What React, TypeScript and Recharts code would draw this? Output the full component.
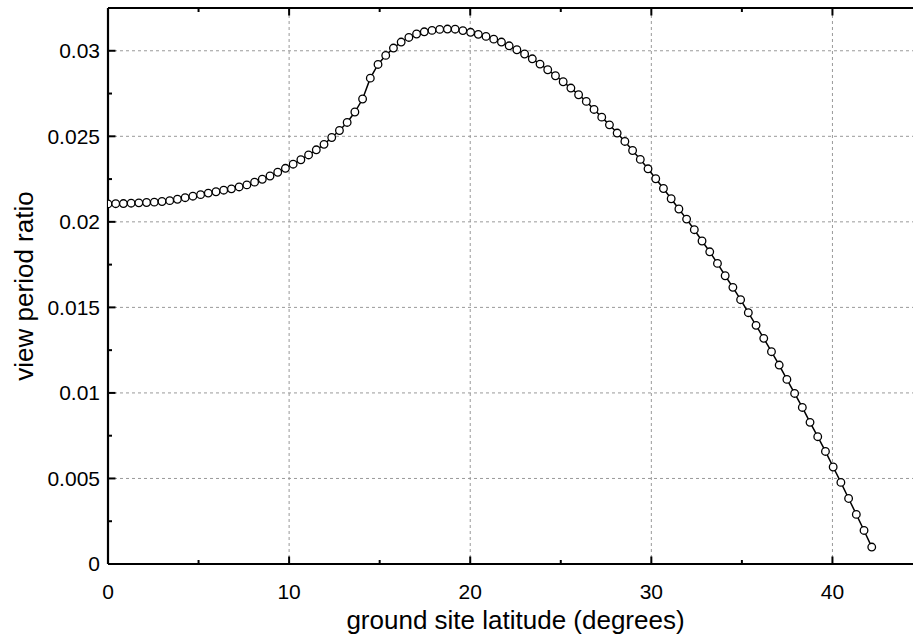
import { LineChart, Line, XAxis, YAxis, ReferenceLine, Label } from "recharts";

// ground site latitude, degrees
const latitude = [
  0, 0.426, 0.852, 1.278, 1.704, 2.13, 2.556, 2.982, 3.408, 3.834,
  4.26, 4.686, 5.112, 5.537, 5.963, 6.389, 6.815, 7.241, 7.667, 8.093,
  8.519, 8.945, 9.371, 9.797, 10.223, 10.649, 11.075, 11.501, 11.927, 12.353,
  12.779, 13.205, 13.631, 14.057, 14.483, 14.909, 15.335, 15.761, 16.187, 16.612,
  17.038, 17.464, 17.89, 18.316, 18.742, 19.168, 19.594, 20.02, 20.446, 20.872,
  21.298, 21.724, 22.15, 22.576, 23.002, 23.428, 23.854, 24.28, 24.706, 25.132,
  25.558, 25.984, 26.41, 26.836, 27.262, 27.687, 28.113, 28.539, 28.965, 29.391,
  29.817, 30.243, 30.669, 31.095, 31.521, 31.947, 32.373, 32.799, 33.225, 33.651,
  34.077, 34.503, 34.929, 35.355, 35.781, 36.207, 36.633, 37.059, 37.485, 37.911,
  38.337, 38.762, 39.188, 39.614, 40.04, 40.466, 40.892, 41.318, 41.744, 42.17,
];

const viewPeriodRatio = [
  0.02105, 0.02106, 0.02107, 0.02109, 0.02111, 0.02113, 0.02115, 0.02119, 0.02124, 0.02132,
  0.02141, 0.0215, 0.02159, 0.02168, 0.02176, 0.02185, 0.02193, 0.02204, 0.02216, 0.02232,
  0.02249, 0.02268, 0.0229, 0.02313, 0.02337, 0.02363, 0.02391, 0.02421, 0.02453, 0.02493,
  0.02534, 0.02581, 0.02642, 0.02718, 0.0284, 0.0292, 0.02973, 0.03016, 0.03051, 0.03078,
  0.03098, 0.03111, 0.03119, 0.03125, 0.03127, 0.03126, 0.03118, 0.03108, 0.03096, 0.03084,
  0.03068, 0.03051, 0.03029, 0.03006, 0.02981, 0.02953, 0.02922, 0.02889, 0.02854, 0.02819,
  0.02782, 0.02743, 0.02704, 0.02657, 0.02612, 0.02567, 0.02519, 0.0247, 0.02417, 0.02365,
  0.0231, 0.02252, 0.02195, 0.02135, 0.02075, 0.02016, 0.01954, 0.01888, 0.01825, 0.01757,
  0.01685, 0.01617, 0.01545, 0.01469, 0.01395, 0.01319, 0.01241, 0.01163, 0.01079, 0.00997,
  0.00915, 0.00828, 0.00744, 0.00658, 0.00567, 0.00477, 0.00383, 0.0029, 0.00196, 0.00099,
];

const xMajorTicks = [0, 10, 20, 30, 40];
const xMinorTicks = [5, 15, 25, 35, 45];
const yMajorTicks = [0, 0.005, 0.01, 0.015, 0.02, 0.025, 0.03];
const yMinorTicks = [0.0025, 0.0075, 0.0125, 0.0175, 0.0225, 0.0275];
const yTickLabels = ["0", "0.005", "0.01", "0.015", "0.02", "0.025", "0.03"];

const data = latitude.map((lat, i) => ({ lat, ratio: viewPeriodRatio[i] }));

const FONT = "'Liberation Sans', Arial, Helvetica, sans-serif";
const GRID = "#999";
const TICK_FONT = 21;
const LABEL_FONT = 26;

const XTick = (props: any) => {
  const { x, y, payload } = props;
  const major = xMajorTicks.includes(payload.value);
  return (
    <g>
      <line x1={x} x2={x} y1={y} y2={y - (major ? 7.5 : 4)} stroke="#000" strokeWidth={2} />
      {major && (
        <text x={x} y={y + 20} dy="0.71em" textAnchor="middle" fontSize={TICK_FONT} fontFamily={FONT} fill="#000">
          {payload.value}
        </text>
      )}
    </g>
  );
};

const TopTick = (props: any) => {
  const { x, y, payload } = props;
  const major = xMajorTicks.includes(payload.value);
  return <line x1={x} x2={x} y1={y} y2={y + (major ? 7.5 : 4)} stroke="#000" strokeWidth={2} />;
};

const YTick = (props: any) => {
  const { x, y, payload } = props;
  const idx = yMajorTicks.indexOf(payload.value);
  return (
    <g>
      <line x1={x} x2={x + (idx >= 0 ? 7.5 : 4)} y1={y} y2={y} stroke="#000" strokeWidth={2} />
      {idx >= 0 && (
        <text x={x - 8} y={y} dy="0.355em" textAnchor="end" fontSize={TICK_FONT} fontFamily={FONT} fill="#000">
          {yTickLabels[idx]}
        </text>
      )}
    </g>
  );
};

const xTicks = [...xMajorTicks, ...xMinorTicks].sort((a, b) => a - b);
const yTicks = [...yMajorTicks, ...yMinorTicks].sort((a, b) => a - b);

const ViewPeriodChart = () => {
  return (
    <div
      style={{
        position: "absolute",
        left: 0,
        top: 0,
        width: 913,
        height: 639,
        overflow: "hidden",
        background: "#fff",
        fontFamily: FONT,
      }}
    >
      <LineChart width={940} height={639} data={data} margin={{ top: 7, right: 17, bottom: 74, left: 107 }}>
        {xMajorTicks
          .filter((v) => v > 0)
          .map((v) => (
            <ReferenceLine key={`gx-${v}`} x={v} stroke={GRID} strokeDasharray="3 3" strokeWidth={1} />
          ))}
        {yMajorTicks
          .filter((v) => v > 0)
          .map((v) => (
            <ReferenceLine key={`gy-${v}`} y={v} stroke={GRID} strokeDasharray="3 3" strokeWidth={1} />
          ))}
        <XAxis
          dataKey="lat"
          type="number"
          domain={[0, 45]}
          ticks={xTicks}
          interval={0}
          height={1}
          tickSize={0}
          tickMargin={0}
          tickLine={false}
          tick={XTick}
          axisLine={{ stroke: "#000", strokeWidth: 2.2 }}
          allowDataOverflow
        >
          <Label
            content={(props: any) => {
              const vb = props.viewBox || { x: 108, width: 815 };
              return (
                <text
                  x={vb.x + vb.width / 2}
                  y={629}
                  textAnchor="middle"
                  fontSize={LABEL_FONT}
                  fontFamily={FONT}
                  fill="#000"
                >
                  ground site latitude (degrees)
                </text>
              );
            }}
          />
        </XAxis>
        <XAxis
          xAxisId="top"
          orientation="top"
          dataKey="lat"
          type="number"
          domain={[0, 45]}
          ticks={xTicks}
          interval={0}
          height={1}
          tickSize={0}
          tickMargin={0}
          tickLine={false}
          tick={TopTick}
          axisLine={{ stroke: "#000", strokeWidth: 2.2 }}
          allowDataOverflow
        />
        <YAxis
          type="number"
          domain={[0, 0.0325]}
          ticks={yTicks}
          interval={0}
          width={1}
          tickSize={0}
          tickMargin={0}
          tickLine={false}
          tick={YTick}
          axisLine={{ stroke: "#000", strokeWidth: 2.2 }}
          allowDataOverflow
        >
          <Label
            content={() => (
              <text
                x={33}
                y={286}
                transform="rotate(-90, 33, 286)"
                textAnchor="middle"
                fontSize={LABEL_FONT}
                fontFamily={FONT}
                fill="#000"
              >
                view period ratio
              </text>
            )}
          />
        </YAxis>
        <Line
          type="linear"
          dataKey="ratio"
          stroke="#000"
          strokeWidth={1.5}
          dot={{ r: 3.8, fill: "#fff", stroke: "#000", strokeWidth: 1.3 }}
          activeDot={false}
          isAnimationActive={false}
        />
      </LineChart>
    </div>
  );
};

export default ViewPeriodChart;
